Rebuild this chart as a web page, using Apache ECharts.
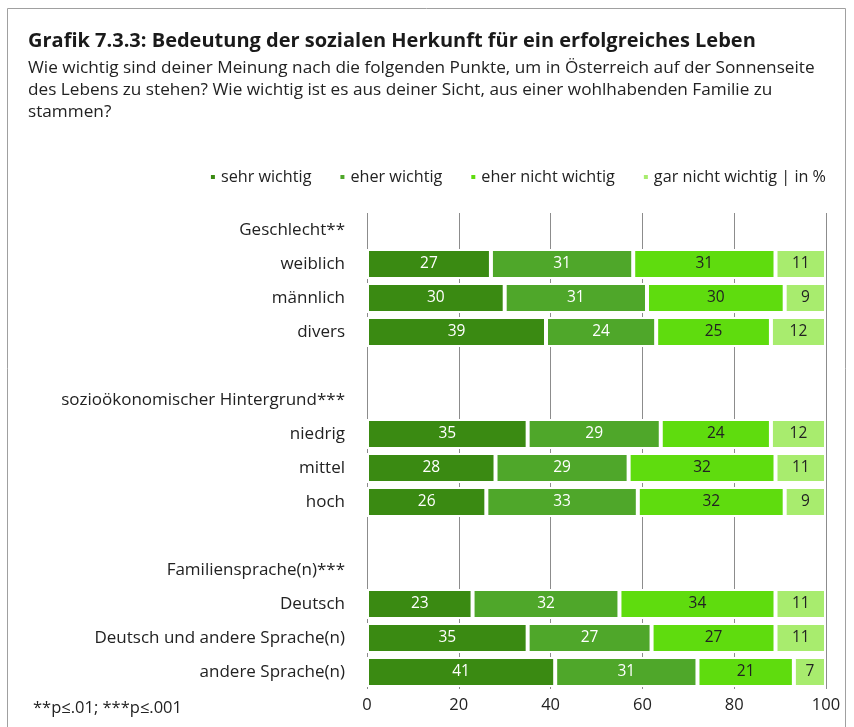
<!DOCTYPE html>
<html lang="de">
<head>
    <meta charset="UTF-8">
    <title>Grafik 7.3.3</title>
    <script src="https://cdn.jsdelivr.net/npm/echarts@6.0.0/dist/echarts.min.js"></script>
    <style>
        body { margin: 0; background-color: #ffffff; }
    </style>
</head>
<body>
    <div id="main" style="width: 854px;height:727px;"></div>
    <script type="text/javascript">
        // rows from top to bottom, group headers have no values
        let categories = ['Geschlecht**', 'weiblich', 'männlich', 'divers', '',
            'sozioökonomischer Hintergrund***', 'niedrig', 'mittel', 'hoch', ' ',
            'Familiensprache(n)***', 'Deutsch', 'Deutsch und andere Sprache(n)', 'andere Sprache(n)'];
        let seriesNames = ['sehr wichtig', 'eher wichtig', 'eher nicht wichtig', 'gar nicht wichtig'];
        let sehrWichtig = ['-', 27, 30, 39, '-', '-', 35, 28, 26, '-', '-', 23, 35, 41];
        let eherWichtig = ['-', 31, 31, 24, '-', '-', 29, 29, 33, '-', '-', 32, 27, 31];
        let eherNicht = ['-', 31, 30, 25, '-', '-', 24, 32, 32, '-', '-', 34, 27, 21];
        let garNicht = ['-', 11, 9, 12, '-', '-', 12, 11, 9, '-', '-', 11, 11, 7];
        let xTicks = [0, 20, 40, 60, 80, 100];

        let colors = ['#3a8a12', '#4fa72a', '#5fdc0e', '#a8ec6e'];
        let labelColors = ['#ffffff', '#ffffff', '#222222', '#222222'];
        let font = 'Open Sans';

        let allValues = [sehrWichtig, eherWichtig, eherNicht, garNicht];
        let series = seriesNames.map((name, i) => ({
            name: name,
            type: 'bar',
            stack: 'total',
            barWidth: 30,
            data: allValues[i],
            itemStyle: { color: colors[i], borderColor: '#ffffff', borderWidth: 2 },
            label: {
                show: true,
                position: 'inside',
                color: labelColors[i],
                fontFamily: font,
                fontSize: 15.5
            }
        }));

        let options = {
            animation: false,
            textStyle: { fontFamily: font },
            title: [
                {
                    text: 'Grafik 7.3.3: Bedeutung der sozialen Herkunft für ein erfolgreiches Leben',
                    left: 23, top: 26,
                    textStyle: { fontFamily: font, fontSize: 20, fontWeight: 'bold', color: '#1a1a1a' }
                },
                {
                    text: 'Wie wichtig sind deiner Meinung nach die folgenden Punkte, um in Österreich auf der Sonnenseite\ndes Lebens zu stehen? Wie wichtig ist es aus deiner Sicht, aus einer wohlhabenden Familie zu\nstammen?',
                    left: 23, top: 52,
                    textStyle: { fontFamily: font, fontSize: 17.2, fontWeight: 'normal', color: '#222222', lineHeight: 22 }
                },
                {
                    text: '**p≤.01; ***p≤.001',
                    left: 28, top: 695,
                    textStyle: { fontFamily: font, fontSize: 16.5, fontWeight: 'normal', color: '#222222' }
                }
            ],
            legend: {
                right: 23, top: 164,
                icon: 'rect', itemWidth: 6, itemHeight: 6, itemGap: 27,
                textStyle: { fontFamily: font, fontSize: 16.2, color: '#222222' },
                formatter: (name) => name === 'gar nicht wichtig' ? name + ' | in %' : name,
                data: seriesNames
            },
            grid: { left: 367, right: 28, top: 213, bottom: 38, containLabel: false },
            xAxis: {
                type: 'value',
                min: xTicks[0], max: xTicks[xTicks.length - 1], interval: 20,
                axisLine: { show: false },
                axisTick: { show: false },
                axisLabel: { color: '#222222', fontSize: 16.5, fontFamily: font, margin: 8 },
                splitLine: { show: true, lineStyle: { color: '#8c8c8c', width: 1 } }
            },
            yAxis: {
                type: 'category',
                inverse: true,
                data: categories,
                axisLine: { show: false },
                axisTick: { show: false },
                axisLabel: { color: '#222222', fontSize: 17, fontFamily: font, margin: 22 }
            },
            graphic: [
                {
                    type: 'rect',
                    shape: { x: 7.5, y: 8.5, width: 838, height: 740 },
                    style: { fill: 'none', stroke: '#a0a0a0', lineWidth: 1 },
                    silent: true
                }
            ],
            series: series
        };

        let myChart = echarts.init(document.getElementById('main'));
        myChart.setOption(options);
    </script>
</body>
</html>
